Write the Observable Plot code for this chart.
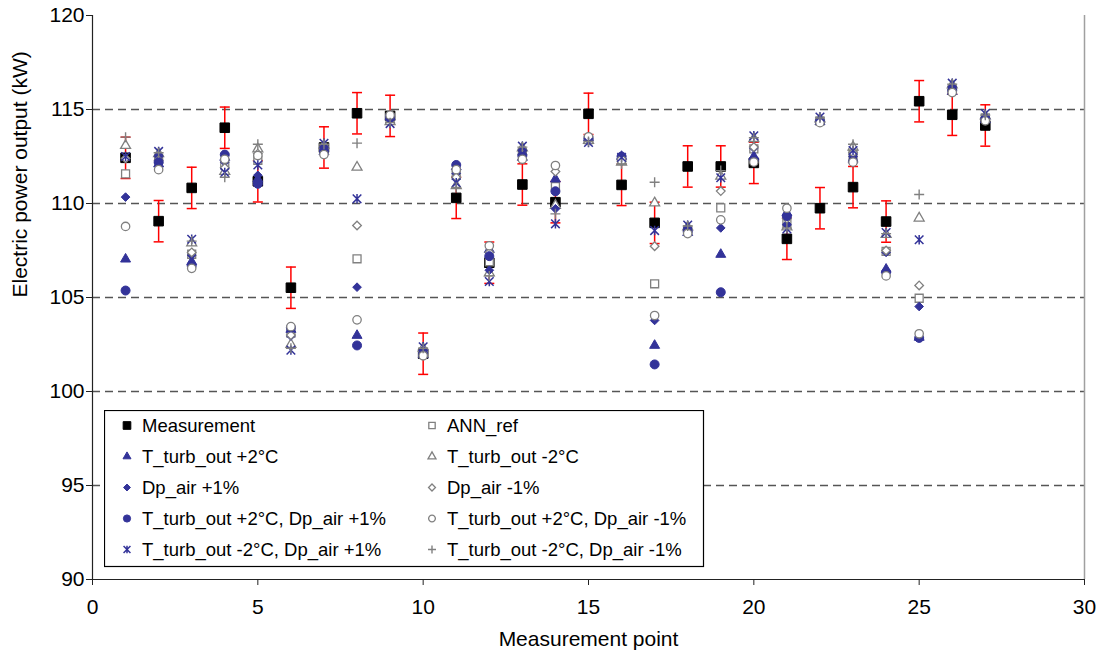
<!DOCTYPE html>
<html><head><meta charset="utf-8">
<script src="https://cdn.jsdelivr.net/npm/d3@7"></script>
<script src="https://cdn.jsdelivr.net/npm/@observablehq/plot@0.6"></script>
<style>
html,body{margin:0;padding:0;background:#fff;}
#wrap{position:relative;width:1104px;height:661px;font-family:"Liberation Sans",Arial,sans-serif;}
#legend{position:absolute;left:104px;top:410px;}
</style></head><body><div id="wrap"></div>
<script>
const points = [1,2,3,4,5,6,7,8,9,10,11,12,13,14,15,16,17,18,19,20,21,22,23,24,25,26,27];
const xTicks = [0,5,10,15,20,25,30];
const yTicks = [90,95,100,105,110,115,120];
const gridValues = [95,100,105,110,115];
const errorHalf = 1.1;

const measurement = [112.43,109.06,110.83,114.03,111.18,105.52,112.98,114.80,114.66,102.01,110.30,106.85,111.01,110.07,114.77,110.99,108.97,111.97,111.97,112.16,108.12,109.75,110.87,109.04,115.44,114.72,114.15];
const annRef      = [111.58,112.35,107.30,112.05,112.30,103.10,112.90,107.06,114.55,102.10,111.50,106.90,112.70,110.90,113.40,112.35,105.73,108.60,109.77,112.90,109.00,114.40,112.60,107.45,104.96,116.10,114.55];
const tPlus2      = [107.04,112.10,106.90,112.45,111.30,103.30,112.75,102.98,114.60,101.95,111.95,107.55,112.45,111.30,113.50,112.50,102.45,108.45,107.29,112.50,109.50,114.35,112.35,106.50,102.88,115.95,114.45];
const tMinus2     = [113.08,112.65,107.90,111.70,112.90,102.50,113.10,111.93,114.35,102.30,110.95,106.30,112.95,109.90,113.35,112.20,110.03,108.75,111.45,113.45,108.75,114.50,113.00,108.35,109.22,116.30,114.65];
const dpPlus1     = [110.34,112.50,107.25,112.20,111.50,102.95,113.00,105.55,114.50,102.20,111.60,106.45,112.80,109.72,113.40,112.40,103.78,108.70,108.70,112.95,108.90,114.45,112.50,107.40,104.52,116.20,114.60];
const dpMinus1    = [112.40,112.30,107.40,111.90,112.65,103.00,112.85,108.83,114.60,102.05,111.40,107.40,112.60,111.70,113.45,112.25,107.73,108.55,110.66,113.00,109.20,114.40,112.70,107.50,105.64,116.05,114.50];
const tP2dP1      = [105.37,112.20,106.70,112.60,111.05,103.40,112.80,102.45,114.65,102.00,112.05,107.20,112.55,110.65,113.50,112.50,101.44,108.50,105.28,112.32,109.33,114.35,112.25,106.35,102.85,116.00,114.50];
const tP2dM1      = [108.78,111.80,106.55,112.35,112.55,103.45,112.60,103.81,114.70,101.90,111.80,107.75,112.35,112.02,113.55,112.30,104.04,108.40,109.13,112.20,109.75,114.30,112.20,106.15,103.07,115.90,114.40];
const tM2dP1      = [112.50,112.77,108.10,111.65,112.05,102.20,113.20,110.25,114.25,102.38,111.10,105.85,113.05,108.92,113.25,112.45,108.56,108.85,111.37,113.60,108.65,114.60,112.82,108.45,108.07,116.40,114.78];
const tM2dM1      = [113.53,112.70,108.00,111.40,113.15,102.30,113.15,113.21,114.30,102.30,110.85,106.15,113.00,109.45,113.30,112.10,111.13,108.80,111.75,113.50,108.70,114.55,113.15,108.40,110.48,116.35,114.70];

const BLUE = "#333399", GRAY = "#808080";
const symStar = {draw(ctx, size){const r=Math.sqrt(size/Math.PI); ctx.moveTo(-r,-r);ctx.lineTo(r,r);ctx.moveTo(r,-r);ctx.lineTo(-r,r);ctx.moveTo(0,-r*1.1);ctx.lineTo(0,r*1.1);}};
const symPlus = {draw(ctx, size){const r=Math.sqrt(size/Math.PI); ctx.moveTo(-r,0);ctx.lineTo(r,0);ctx.moveTo(0,-r);ctx.lineTo(0,r);}};
const symCap  = {draw(ctx, size){const r=Math.sqrt(size/Math.PI); ctx.moveTo(-r,0);ctx.lineTo(r,0);}};

const series = [
  {name:"Measurement", values:measurement, symbol:"square", fill:"#000", stroke:"#000", r:5.4, sw:1},
  {name:"ANN_ref", values:annRef, symbol:"square", fill:"#fff", stroke:GRAY, r:4.5, sw:1.3},
  {name:"T_turb_out +2°C", values:tPlus2, symbol:"triangle", fill:BLUE, stroke:BLUE, r:3.7, sw:1},
  {name:"T_turb_out -2°C", values:tMinus2, symbol:"triangle", fill:"#fff", stroke:GRAY, r:3.7, sw:1.3},
  {name:"Dp_air +1%", values:dpPlus1, symbol:"diamond2", fill:BLUE, stroke:BLUE, r:3.9, sw:1},
  {name:"Dp_air -1%", values:dpMinus1, symbol:"diamond2", fill:"#fff", stroke:GRAY, r:3.9, sw:1.3},
  {name:"T_turb_out +2°C, Dp_air +1%", values:tP2dP1, symbol:"circle", fill:BLUE, stroke:BLUE, r:4.5, sw:1},
  {name:"T_turb_out +2°C, Dp_air -1%", values:tP2dM1, symbol:"circle", fill:"#fff", stroke:GRAY, r:4.2, sw:1.3},
  {name:"T_turb_out -2°C, Dp_air +1%", values:tM2dP1, symbol:symStar, fill:"none", stroke:BLUE, r:4.3, sw:1.5},
  {name:"T_turb_out -2°C, Dp_air -1%", values:tM2dM1, symbol:symPlus, fill:"none", stroke:GRAY, r:5, sw:1.4}
];

const font = "'Liberation Sans', Arial, sans-serif";

const chart = Plot.plot({
  width: 1104, height: 661,
  marginLeft: 92, marginRight: 20, marginTop: 15, marginBottom: 82,
  style: {fontFamily: font, fontSize: "21px", color: "#000", background: "#fff"},
  x: {domain: [0, 30]},
  y: {domain: [90, 120]},
  marks: [
    Plot.ruleY(gridValues, {stroke: "#555", strokeDasharray: "8,5", strokeWidth: 1.3}),
    Plot.ruleX([30], {stroke: "#a0a0a0", strokeWidth: 1.5}),
    Plot.ruleX([0], {stroke: "#222", strokeWidth: 1.2}),
    Plot.ruleY([90], {stroke: "#222", strokeWidth: 1.2}),
    Plot.axisX({ticks: xTicks, tickSize: 6, tickPadding: 14, label: null, fontSize: 21, stroke: "#222"}),
    Plot.axisY({ticks: yTicks, tickSize: 6, tickPadding: 2, label: null, fontSize: 21, stroke: "#222"}),
    Plot.text(["Measurement point"], {frameAnchor: "bottom", dy: 66, fontSize: 21}),
    Plot.text(["Electric power output (kW)"], {frameAnchor: "left", dx: -72, rotate: -90, fontSize: 21}),
    Plot.ruleX(measurement, {x: points, y1: d => d - errorHalf, y2: d => d + errorHalf, stroke: "#ff0000", strokeWidth: 1.5}),
    Plot.dot(measurement, {x: points, y: d => d - errorHalf, symbol: symCap, r: 5, stroke: "#ff0000", strokeWidth: 1.5}),
    Plot.dot(measurement, {x: points, y: d => d + errorHalf, symbol: symCap, r: 5, stroke: "#ff0000", strokeWidth: 1.5}),
    ...series.map(s => Plot.dot(s.values, {x: points, y: d => d, symbol: s.symbol, r: s.r, fill: s.fill, stroke: s.stroke, strokeWidth: s.sw}))
  ]
});

const wrap = document.getElementById("wrap");
wrap.appendChild(chart);

// Legend (inside plot area, as in the reference)
const lw = 599, lh = 156;
const lsvg = d3.create("svg").attr("id", "legend").attr("width", lw + 2).attr("height", lh + 2)
  .style("position", "absolute").style("left", "104px").style("top", "410px");
lsvg.append("rect").attr("x", 0.5).attr("y", 0.5).attr("width", lw).attr("height", lh)
  .attr("fill", "#fff").attr("stroke", "#000").attr("stroke-width", 1.2);
const symMap = {square: d3.symbolSquare, triangle: d3.symbolTriangle, diamond2: d3.symbolDiamond2, circle: d3.symbolCircle};
series.forEach((s, i) => {
  const col = i % 2, row = Math.floor(i / 2);
  const cx = col === 0 ? 23 : 328;
  const cy = 15.5 + row * 31;
  const type = typeof s.symbol === "string" ? symMap[s.symbol] : s.symbol;
  const rr = s.r * 0.8;
  lsvg.append("path").attr("transform", `translate(${cx},${cy})`)
    .attr("d", d3.symbol().type(type).size(Math.PI * rr * rr)())
    .attr("fill", s.fill).attr("stroke", s.stroke).attr("stroke-width", s.sw);
  lsvg.append("text").attr("x", cx + 15).attr("y", cy).attr("dy", "0.35em")
    .attr("font-family", font).attr("font-size", 18.5).attr("fill", "#000").text(s.name);
});
wrap.appendChild(lsvg.node());
</script></body></html>
